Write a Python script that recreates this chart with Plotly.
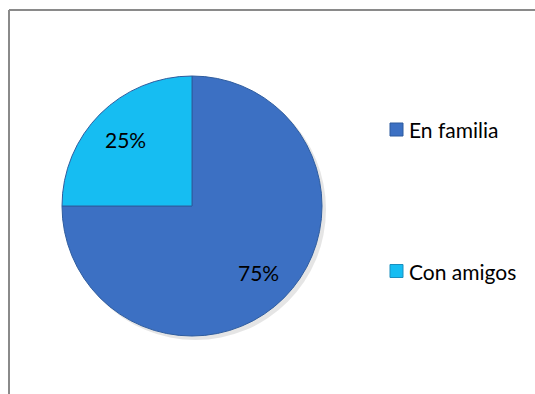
import math
import plotly.graph_objects as go

# Survey shares
labels = ["En familia", "Con amigos"]
values = [75, 25]
colors = ["#3c70c3", "#16bdf2"]
edge_colors = ["#2d5a9e", "#1a8fbf"]

W, H = 535, 394
FONT = "Lato, 'Open Sans', sans-serif"

# pie geometry in pixels
CX, CY, R = 192, 206, 130

fig = go.Figure()

fig.add_trace(go.Pie(
    labels=labels,
    values=values,
    sort=False,
    direction="clockwise",
    rotation=0,
    marker=dict(colors=colors, line=dict(color="#2f5d9f", width=1)),
    textinfo="none",
    showlegend=False,
    hoverinfo="label+percent",
    domain=dict(x=[(CX - R) / W, (CX + R) / W], y=[1 - (CY + R) / H, 1 - (CY - R) / H]),
))

shapes = [
    # soft shadow under the pie
    dict(type="circle", xref="paper", yref="paper", layer="below",
         x0=(CX - R + 3) / W, x1=(CX + R + 4) / W,
         y0=1 - (CY + R + 4) / H, y1=1 - (CY - R + 3) / H,
         fillcolor="rgba(0,0,0,0.10)", line=dict(width=0)),
    # chart frame (top and left edges visible)
    dict(type="line", xref="paper", yref="paper",
         x0=9 / W, x1=1.0, y0=1 - 10 / H, y1=1 - 10 / H,
         line=dict(color="#8a8a8a", width=2)),
    dict(type="line", xref="paper", yref="paper",
         x0=9 / W, x1=9 / W, y0=1 - 10 / H, y1=0,
         line=dict(color="#8a8a8a", width=2)),
]

annotations = []

# percentage labels placed along each slice's bisector
total = sum(values)
cum = 0
for v in values:
    mid = 2 * math.pi * (cum + v / 2) / total  # clockwise from 12 o'clock
    cum += v
    d = 0.72 * R
    px = CX + d * math.sin(mid)
    py = CY - d * math.cos(mid)
    annotations.append(dict(xref="paper", yref="paper", x=px / W, y=1 - py / H,
                            text=f"{round(100 * v / total)}%", showarrow=False,
                            xanchor="center", yanchor="middle",
                            font=dict(family=FONT, size=21, color="#000000")))

# legend entries: colored square + label
legend_rows = [129.5, 271]
for lab, col, edge, yc in zip(labels, colors, edge_colors, legend_rows):
    shapes.append(dict(type="rect", xref="paper", yref="paper",
                       x0=390 / W, x1=403 / W,
                       y0=1 - (yc + 6.5) / H, y1=1 - (yc - 6.5) / H,
                       fillcolor=col, line=dict(color=edge, width=1)))
    annotations.append(dict(xref="paper", yref="paper", x=407 / W, y=1 - yc / H,
                            text=lab, showarrow=False, xanchor="left", yanchor="middle",
                            font=dict(family=FONT, size=21, color="#000000")))

fig.update_layout(
    width=W, height=H,
    margin=dict(l=0, r=0, t=0, b=0),
    paper_bgcolor="#ffffff",
    plot_bgcolor="#ffffff",
    shapes=shapes,
    annotations=annotations,
)

fig.write_html("out.html")
